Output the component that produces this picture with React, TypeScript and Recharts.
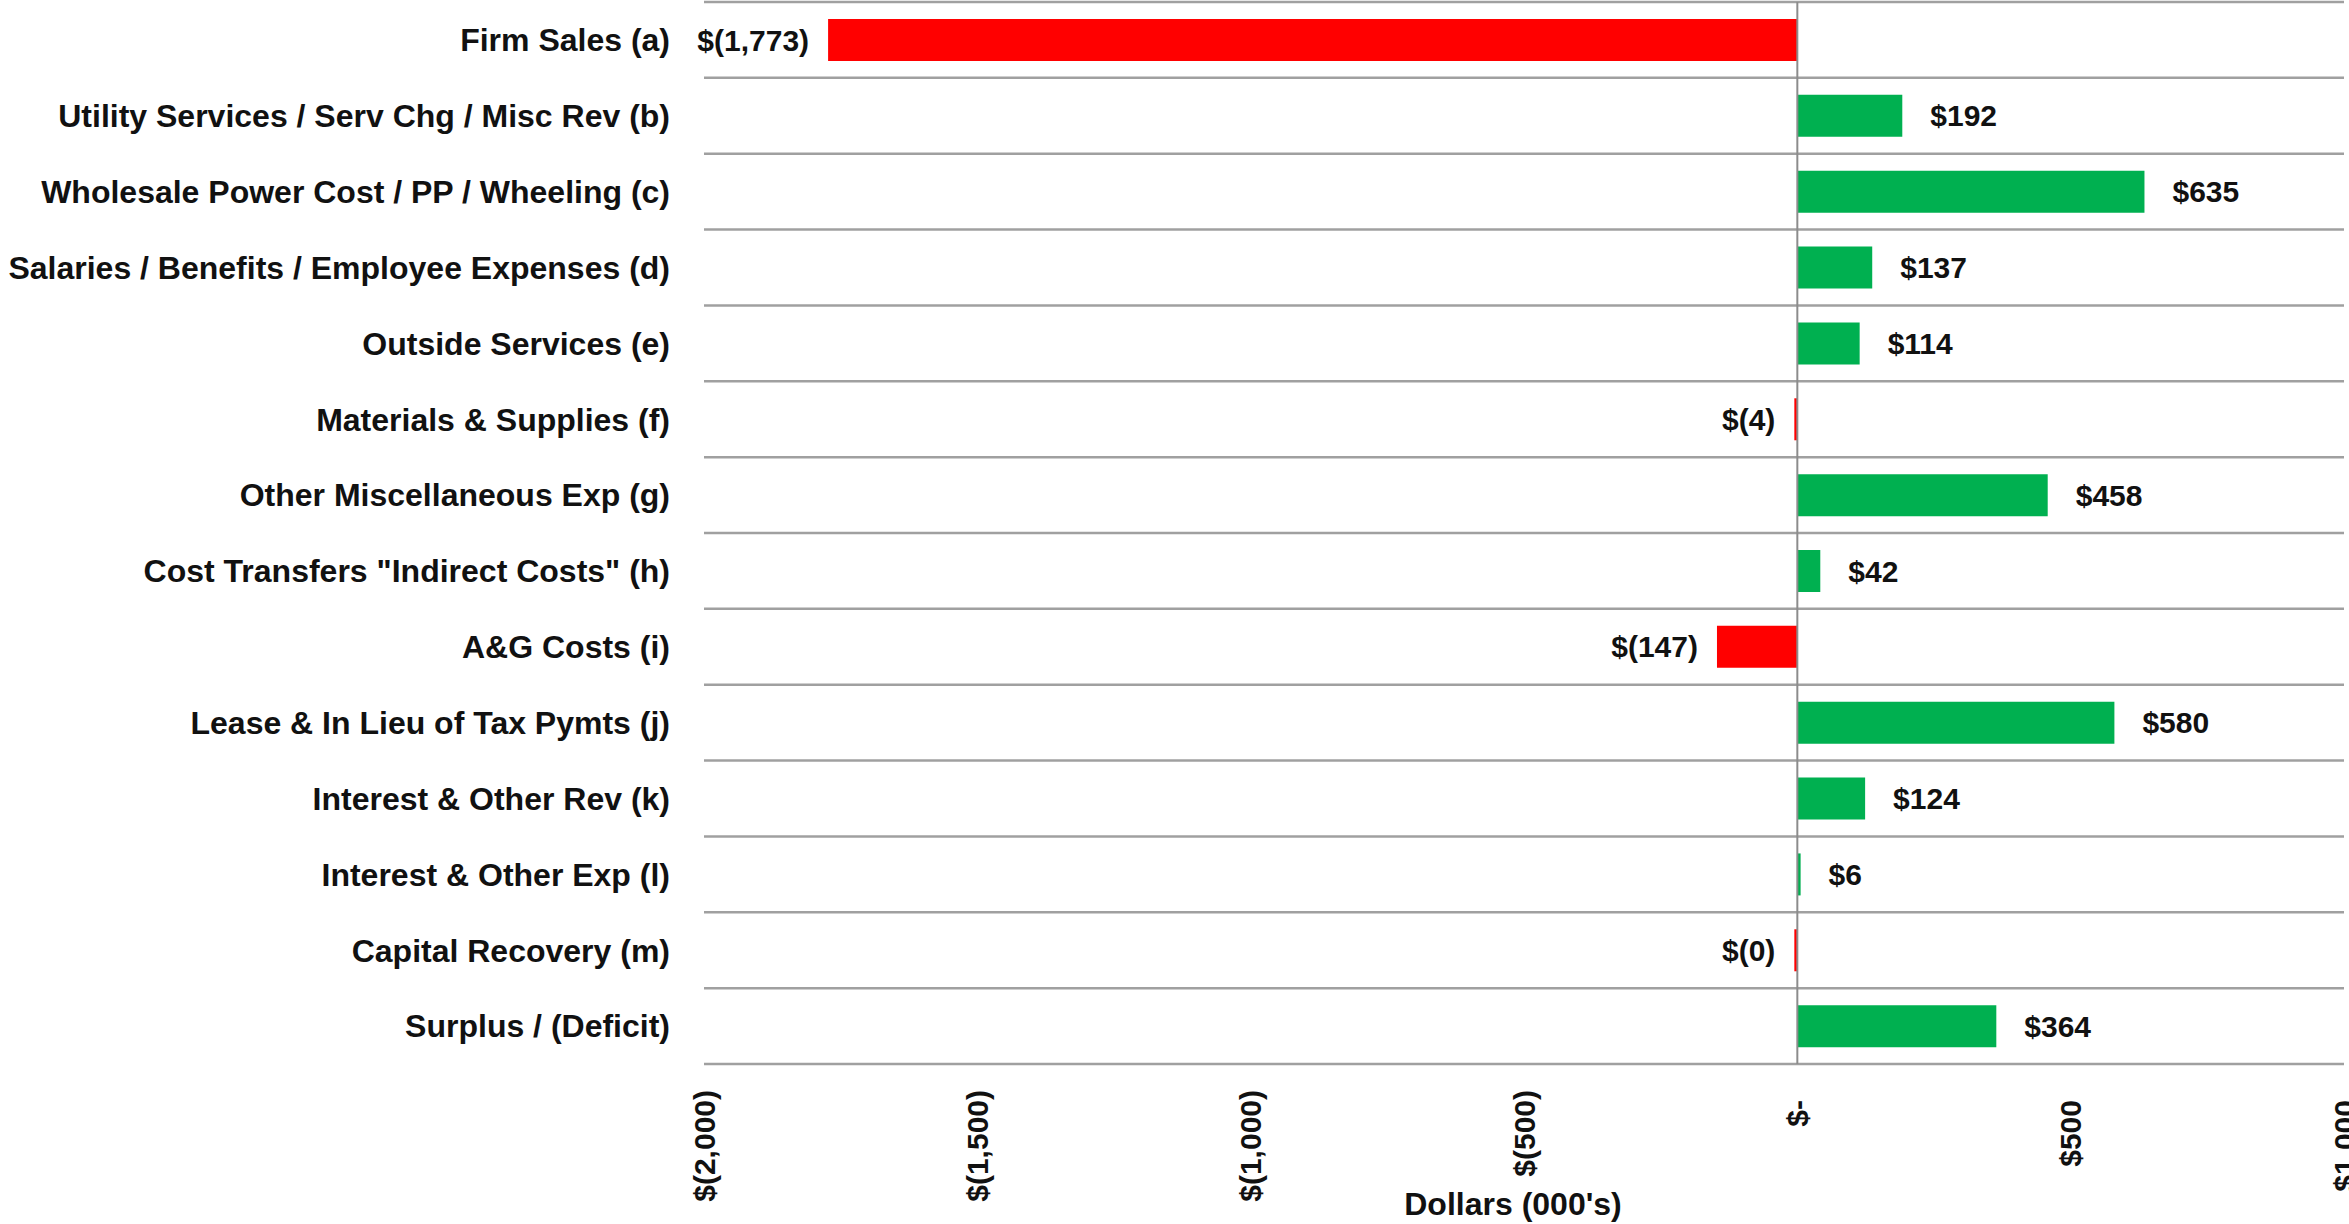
import React from "react";
import { BarChart, Bar, XAxis, YAxis, CartesianGrid, Cell, LabelList, ReferenceLine } from "recharts";

const categories = [
  "Firm Sales (a)",
  "Utility Services / Serv Chg / Misc Rev (b)",
  "Wholesale Power Cost / PP / Wheeling (c)",
  "Salaries / Benefits / Employee Expenses (d)",
  "Outside Services (e)",
  "Materials & Supplies (f)",
  "Other Miscellaneous Exp (g)",
  'Cost Transfers "Indirect Costs" (h)',
  "A&G Costs (i)",
  "Lease & In Lieu of Tax Pymts (j)",
  "Interest & Other Rev (k)",
  "Interest & Other Exp (l)",
  "Capital Recovery (m)",
  "Surplus / (Deficit)",
];

// variance, thousands of dollars
const variance = [-1773, 192, 635, 137, 114, -4, 458, 42, -147, 580, 124, 6, -0.3, 364];

const xTicks = [-2000, -1500, -1000, -500, 0, 500, 1000];

const data = categories.map((name, i) => ({ name, value: variance[i] }));

const FONT = "'Liberation Sans', Arial, sans-serif";
const TEXT = "#111";
const GREEN = "#00B050";
const RED = "#FF0000";
const GRID = "#a0a0a0";

const withCommas = (n: number) => String(n).replace(/\B(?=(\d{3})+(?!\d))/g, ",");

const money = (v: number) => {
  const n = withCommas(Math.round(Math.abs(v)));
  return v < 0 ? `$(${n})` : `$${n}`;
};

const DollarTick = (props: any) => {
  const { x, y, payload } = props;
  const v = payload.value as number;
  const body = v === 0 ? "$-" : money(v);
  return (
    <text
      transform={`translate(${x},${y}) rotate(-90)`}
      textAnchor="end"
      dy="0.35em"
      fontSize={30}
      fontFamily={FONT}
      fontWeight="bold"
      fill={TEXT}
    >
      {body}
      {v >= 0 && <tspan fillOpacity={0}>)</tspan>}
    </text>
  );
};

const ValueLabel = (props: any) => {
  const { x, y, width, height, value } = props;
  const left = Math.min(x, x + width);
  const right = Math.max(x, x + width);
  const neg = value < 0;
  return (
    <text
      x={neg ? left - 19 : right + 28}
      y={y + height / 2}
      textAnchor={neg ? "end" : "start"}
      dominantBaseline="central"
      fontSize={30}
      fontFamily={FONT}
      fontWeight="bold"
      fill={TEXT}
    >
      {money(value)}
    </text>
  );
};

export default function App() {
  return (
    <div style={{ position: "absolute", left: 0, top: 0, background: "#fff" }}>
      <BarChart
        width={2349}
        height={1224}
        data={data}
        layout="vertical"
        margin={{ top: 2, right: 5, bottom: 0, left: 0 }}
        barSize={42}
      >
        <CartesianGrid
          vertical={false}
          stroke={GRID}
          strokeWidth={2.5}
          horizontalCoordinatesGenerator={({ offset }: any) =>
            Array.from({ length: categories.length + 1 }, (_, i) => offset.top + (i * offset.height) / categories.length)
          }
        />
        <XAxis
          type="number"
          domain={[-2000, 1000]}
          ticks={xTicks}
          interval={0}
          height={160}
          axisLine={false}
          tickLine={false}
          tickSize={0}
          tickMargin={26}
          tick={<DollarTick />}
          label={{
            value: "Dollars (000's)",
            position: "insideBottom",
            offset: 9,
            dx: -11,
            fontSize: 32,
            fontFamily: FONT,
            fontWeight: "bold",
            fill: TEXT,
          }}
        />
        <YAxis
          type="category"
          dataKey="name"
          width={704}
          interval={0}
          axisLine={false}
          tickLine={false}
          tickSize={0}
          tickMargin={34}
          tick={{ fontSize: 32, fontFamily: FONT, fontWeight: "bold", fill: TEXT }}
        />
        <Bar dataKey="value" isAnimationActive={false} minPointSize={3}>
          {data.map((d, i) => (
            <Cell key={`cell-${i}`} fill={d.value < 0 ? RED : GREEN} />
          ))}
          <LabelList dataKey="value" content={<ValueLabel />} />
        </Bar>
        <ReferenceLine x={0} stroke="#8c8c8c" strokeWidth={2} />
      </BarChart>
    </div>
  );
}
